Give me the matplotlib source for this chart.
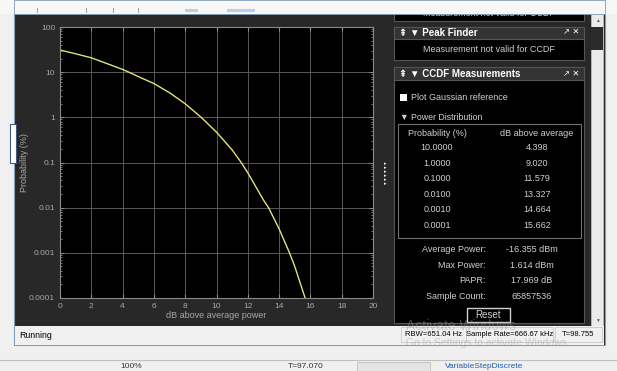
import matplotlib
matplotlib.use("Agg")
import matplotlib.pyplot as plt
from matplotlib.patches import Rectangle

W, H = 617, 371

# CCDF curve (dB above average, probability %)
db_above_avg = [0, 1, 2, 3, 4, 4.398, 5, 6, 7, 8, 9.020, 10, 11, 11.579,
                12, 13, 13.327, 14, 14.664, 15, 15.662]
probability = [31, 25.5, 20.8, 15.5, 11.5, 10, 8, 5.6, 3.5, 2.0, 1.0, 0.47,
               0.19, 0.1, 0.059, 0.0148, 0.01, 0.0034, 0.001, 0.0005, 0.0001]

x_ticks = [0, 2, 4, 6, 8, 10, 12, 14, 16, 18, 20]
y_ticks = [0.0001, 0.001, 0.01, 0.1, 1, 10, 100]
y_tick_labels = ["0.0001", "0.001", "0.01", "0.1", "1", "10", "100"]

# measurement panel table
table_prob = ["10.0000", "1.0000", "0.1000", "0.0100", "0.0010", "0.0001"]
table_db = ["4.398", "9.020", "11.579", "13.327", "14.664", "15.662"]
stat_names = ["Average Power:", "Max Power:", "PAPR:", "Sample Count:"]
stat_values = ["-16.355 dBm", "1.614 dBm", "17.969 dB", "65857536"]

plt.rcParams["font.family"] = ["Liberation Sans", "DejaVu Sans"]

DARK = "#282828"
LIGHT = "#f0f0f0"
TXT = "#d0d0d0"

fig = plt.figure(figsize=(W / 100, H / 100), dpi=100, facecolor=LIGHT)

# pixel-space overlay for the UI chrome
ui = fig.add_axes([0, 0, 1, 1], zorder=0)
ui.set_xlim(0, W)
ui.set_ylim(H, 0)
ui.axis("off")


def box(x0, y0, x1, y1, fc, ec="none", lw=0.8, z=1):
    ui.add_patch(Rectangle((x0, y0), x1 - x0, y1 - y0, facecolor=fc,
                           edgecolor=ec, linewidth=lw, zorder=z))


def txt(x, y, s, size=6.5, color=TXT, ha="left", weight="normal", z=3, **kw):
    ui.text(x, y, s, fontsize=size, color=color, ha=ha, va="center",
            fontweight=weight, zorder=z, **kw)


# scope window
box(14, 0, 605, 345, DARK, ec="#7f9db9", lw=0.8)
box(10, 124, 16, 163, "#ffffff", ec="#3c5a80", lw=0.8, z=2)

# right-hand measurement panels
box(394, 0, 584, 21, "black", ec="#555555")
txt(489, 13, "Measurement not valid for CCDF", ha="center", z=1)
box(394, 27, 584, 39, "#333333", ec="#555555")
txt(399, 33, "\u21de \u25bc Peak Finder", size=7, color="white", weight="bold")
txt(579, 33, "\u2197 \u2715", size=6, color="white", ha="right")
box(394, 39, 584, 60, "black", ec="#555555")
txt(489, 49, "Measurement not valid for CCDF", ha="center")
box(394, 67, 584, 80, "#333333", ec="#555555")
txt(399, 74, "\u21de \u25bc CCDF Measurements", size=7, color="white", weight="bold")
txt(579, 74, "\u2197 \u2715", size=6, color="white", ha="right")
box(394, 80, 584, 323, "black", ec="#555555")

box(400, 94, 407, 101, "white")
txt(411, 98, "Plot Gaussian reference")
txt(400, 117, "\u25bc Power Distribution", size=6.3)
box(398, 124, 581, 238, "black", ec="#707070")
txt(437, 134, "Probability (%)", ha="center")
txt(537, 134, "dB above average", ha="center")
for i, (p, d) in enumerate(zip(table_prob, table_db)):
    y = 148 + 15.4 * i
    txt(437, y, p, ha="center")
    txt(537, y, d, ha="center")

for i, (n, v) in enumerate(zip(stat_names, stat_values)):
    y = 250 + 15.4 * i
    txt(486, y, n, ha="right")
    txt(532, y, v, ha="center")

box(467, 308, 510, 322, "black", ec="#d0d0d0", lw=1)
txt(488.5, 315, "Reset", size=7, ha="center")

# little expander arrows next to the plot
for k in range(6):
    txt(385, 164 + 4 * k, "\u25b8", size=3.5, color="white", ha="center")

# scrollbar
box(591, 14, 603, 326, "#eaeaea", ec="#c8c8c8", lw=0.5)
box(591, 27, 603, 50, "#2b2b2b")
txt(597, 20, "\u25b2", size=3.5, color="#606060", ha="center")
txt(597, 320, "\u25bc", size=3.5, color="#606060", ha="center")

# status bar
box(15, 326, 604, 345, LIGHT, ec="none")
txt(19, 336, "Running", size=6.3, color="black")
box(401, 327, 466, 342, "none", ec="#c8c8c8", lw=0.6)
box(466, 327, 553, 342, "none", ec="#c8c8c8", lw=0.6)
box(555, 327, 602, 342, "none", ec="#c8c8c8", lw=0.6)
txt(433.5, 335, "RBW=651.04 Hz", size=5.5, color="black", ha="center")
txt(509.5, 335, "Sample Rate=666.67 kHz", size=5.5, color="black", ha="center")
txt(578.5, 335, "T=98.755", size=5.5, color="black", ha="center")
txt(406, 326, "Activate Windows", size=10, color="#9a9a9a", alpha=0.45, z=4)
txt(406, 343, "Go to Settings to activate Windows.", size=7.5, color="#9a9a9a",
    alpha=0.45, z=4)

# desktop strip at the top
box(0, 0, W, 14, "#f7f7f7", z=2)
box(14, 0, 605, 14, "#f7f7f7", ec="#7f9db9", lw=0.6, z=2)
for xt in [37, 86, 113, 138]:
    ui.plot([xt, xt], [8, 12], color="#909090", lw=0.6, zorder=3)
box(185, 9, 198, 11.5, "#b8cfe8", z=3)
box(227, 9, 255, 11.5, "#b8cfe8", z=3)

# bottom app bar
ui.plot([0, W], [360, 360], color="#c0c0c0", lw=0.8, zorder=2)
box(357, 362, 430, 380, "#e4e4e4", ec="#c0c0c0", lw=0.6)
txt(120, 366.5, "100%", size=6, color="#333333")
txt(306, 366.5, "T=97.070", size=6, color="#333333", ha="center")
txt(445, 366.5, "VariableStepDiscrete", size=6, color="#2060b0")

# the CCDF plot itself
ax = fig.add_axes([60 / W, 1 - 298 / H, 313 / W, 271 / H], zorder=1)
ax.set_facecolor("black")
ax.plot(db_above_avg, probability, color="#e2e27a", lw=1.0)
ax.set_yscale("log")
ax.set_xlim(0, 20)
ax.set_ylim(1e-4, 100)
ax.set_xticks(x_ticks)
ax.set_xticklabels([str(t) for t in x_ticks])
ax.set_yticks(y_ticks)
ax.set_yticklabels(y_tick_labels)
ax.grid(True, which="major", color="#5a5a5a", lw=0.7)
ax.tick_params(which="both", direction="in", top=True, right=True,
               colors="#8a8a8a", labelcolor="#a8a8a8", labelsize=6)
ax.tick_params(which="major", length=3)
ax.tick_params(which="minor", length=1.5)
for s in ax.spines.values():
    s.set_color("#8a8a8a")
    s.set_linewidth(0.8)
ax.set_xlabel("dB above average power", color="#a8a8a8", fontsize=6.5, labelpad=1)
ax.set_ylabel("Probability (%)", color="#a8a8a8", fontsize=6.5, labelpad=0)

fig.savefig("out.png", dpi=100, facecolor=LIGHT)
